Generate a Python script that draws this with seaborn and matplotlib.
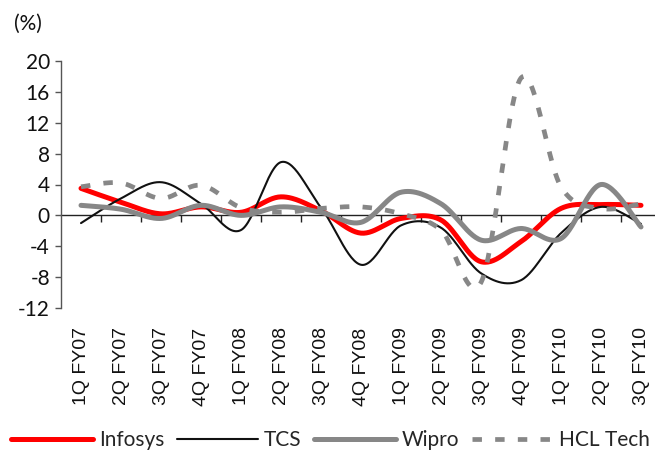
import numpy as np
import pandas as pd
import matplotlib
matplotlib.use("Agg")
import matplotlib.pyplot as plt
import seaborn as sns

quarters = ["1Q FY07", "2Q FY07", "3Q FY07", "4Q FY07", "1Q FY08", "2Q FY08", "3Q FY08",
            "4Q FY08", "1Q FY09", "2Q FY09", "3Q FY09", "4Q FY09", "1Q FY10", "2Q FY10", "3Q FY10"]
infosys = [3.5, 1.7, 0.2, 1.1, 0.4, 2.4, 0.6, -2.3, -0.4, -0.6, -6.0, -3.4, 0.9, 1.4, 1.3]
tcs = [-1.0, 2.2, 4.3, 1.5, -1.9, 6.9, 1.0, -6.4, -1.3, -1.6, -7.5, -8.4, -2.3, 1.1, -1.1]
wipro = [1.3, 0.8, -0.4, 1.3, 0.0, 1.1, 0.4, -0.9, 3.0, 1.5, -3.2, -1.7, -3.0, 4.0, -1.5]
hcl = [3.7, 4.2, 2.2, 3.9, 1.0, 0.4, 0.9, 1.1, 0.2, -1.9, -8.7, 17.8, 3.7, 0.9, 1.5]
yticks = [-12, -8, -4, 0, 4, 8, 12, 16, 20]


def smooth(xs, ys, n=30):
    """Excel-style smoothed line (Catmull-Rom Bezier) through the points."""
    P = np.column_stack([xs, ys]).astype(float)
    P = np.vstack([P[0], P, P[-1]])
    out = []
    t = np.linspace(0, 1, n)[:, None]
    for i in range(1, len(P) - 2):
        p0, p1, p2, p3 = P[i - 1], P[i], P[i + 1], P[i + 2]
        c1 = p1 + (p2 - p0) / 6.0
        c2 = p2 - (p3 - p1) / 6.0
        seg = ((1 - t) ** 3) * p1 + 3 * ((1 - t) ** 2) * t * c1 + 3 * (1 - t) * t ** 2 * c2 + t ** 3 * p2
        out.append(seg if i == 1 else seg[1:])
    return np.vstack(out)


sns.set_theme(style="white")
plt.rcParams["font.family"] = ["Lato", "DejaVu Sans"]

fig = plt.figure(figsize=(6.55, 4.63), dpi=100)
ax = fig.add_axes([61 / 655, 1 - 308 / 463, 600 / 655, 247 / 463])

series = [("Infosys", infosys, "#ff0000", 3.6, None),
          ("TCS", tcs, "#111111", 1.5, None),
          ("Wipro", wipro, "#878787", 3.6, None),
          ("HCL Tech", hcl, "#878787", 3.4, (2.0, 2.8))]

xs = np.arange(len(quarters))
for name, vals, color, lw, dash in series:
    c = smooth(xs, vals)
    df = pd.DataFrame({"x": c[:, 0], "y": c[:, 1]})
    sns.lineplot(data=df, x="x", y="y", sort=False, color=color, lw=lw, ax=ax,
                 label=name, solid_capstyle="round")
    l = ax.get_lines()[-1]
    if dash is not None:
        l.set_dashes(dash)
        l.set_dash_capstyle("butt")

ax.set_xlim(-0.5, 14.5)
ax.set_ylim(-12, 20)
ax.set_yticks(yticks)
ax.set_yticklabels([str(v) for v in yticks], fontsize=15, color="#111111")
ax.set_xticks(xs)
ax.set_xticklabels(quarters, rotation=90, fontsize=14, family="Liberation Sans", color="#111111")
ax.tick_params(axis="x", length=0, pad=14)
ax.tick_params(axis="y", length=4, width=1, color="#555555", direction="out", pad=4, left=True)
ax.set_xlabel("")
ax.set_ylabel("")
for s in ["top", "right", "bottom"]:
    ax.spines[s].set_visible(False)
ax.spines["left"].set_color("#555555")
ax.spines["left"].set_linewidth(1)

sec = ax.secondary_xaxis(12 / 32)
sec.set_xticks(np.arange(0.5, 14.5, 1))
sec.set_xticklabels([])
sec.tick_params(axis="x", length=5, width=1, color="#222222", direction="out")
sec.spines["bottom"].set_color("#222222")
sec.spines["bottom"].set_linewidth(1)
for s in ["top", "left", "right"]:
    sec.spines[s].set_visible(False)

fig.text(14 / 655, 1 - 24 / 463, "(%)", fontsize=15, va="center", ha="left", color="#111111")

ax.get_legend().remove()
handles, labels = ax.get_legend_handles_labels()
fig.legend(handles, labels, loc="center", bbox_to_anchor=(0.505, 1 - 440 / 463), ncol=4,
           frameon=False, fontsize=15, handlelength=3.9, handletextpad=0.3, columnspacing=0.6,
           borderaxespad=0)

fig.savefig("out.png", dpi=100)
